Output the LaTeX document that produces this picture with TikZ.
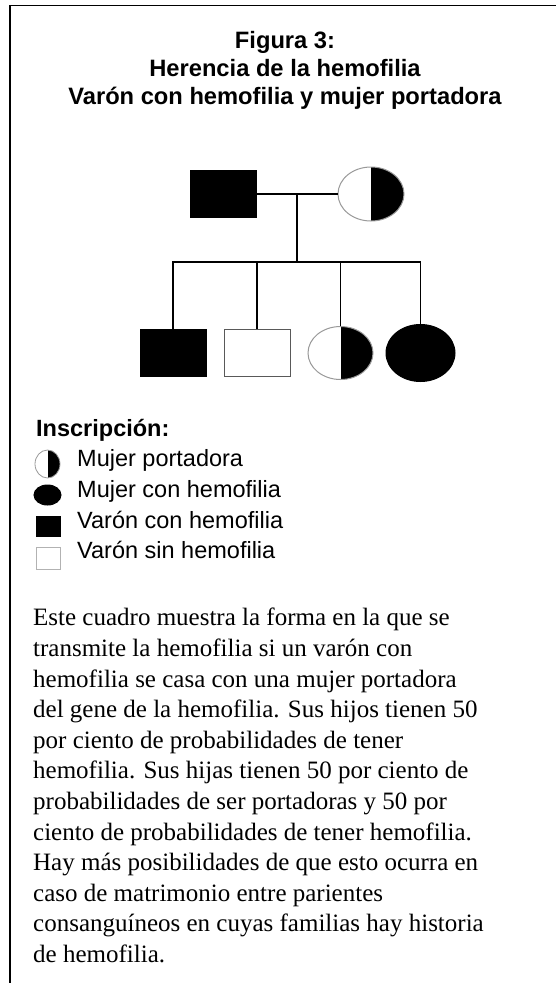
\documentclass[tikz,border=0pt]{standalone}
\usepackage{fontspec}
\setmainfont{Liberation Serif}
\setsansfont{Liberation Sans}
\usetikzlibrary{shapes.geometric,positioning,calc}

\begin{document}
\begin{tikzpicture}[x=1pt, y=-1pt,
        node distance=17pt,
        male/.style={rectangle, draw=black, fill=black, line width=1pt,
          minimum width=66pt, minimum height=47pt, inner sep=0pt},
        healthy/.style={male, draw=black!65, fill=white},
        female/.style={ellipse, draw=black, fill=black, line width=1pt,
          minimum width=66pt, minimum height=54pt, inner sep=0pt},
        carrier/.style={female, draw=black!40, fill=white,
          path picture={\fill[black] (path picture bounding box.north)
            rectangle (path picture bounding box.south east);}},
        link/.style={line width=1.5pt},
        ttl/.style={font=\sffamily\bfseries\fontsize{23.7}{28}\selectfont,
          align=center, inner sep=0pt},
        key/.style={font=\sffamily\fontsize{23.5}{28}\selectfont,
          anchor=base west, inner sep=0pt}
      ]
        \useasboundingbox (0,0) rectangle (556,983);
        \draw[line width=1.7pt] (10,983) -- (10,5.5) -- (556,5.5);
        \node[ttl, anchor=north] (title) at (285,31.5)
          {Figura 3:\\Herencia de la hemofilia\\Varón con hemofilia y mujer portadora};
        \node[male] (father) at (223,194) {};
        \node[carrier, right=81pt of father] (mother) {};
        \coordinate (mate) at ($(father.east)!0.5!(mother.west)$);
        \coordinate (sib) at (297,262);
        \node[male] (son1) at (173,353) {};
        \node[healthy, right=of son1] (son2) {};
        \node[carrier, minimum width=65pt, minimum height=53pt, right=of son2] (dau1) {};
        \node[female, minimum width=69pt, minimum height=57pt, right=12pt of dau1] (dau2) {};
        \draw[link] (father) -- (mother);
        \draw[link] (mate) -- (sib);
        \draw[link] (son1.north) |- (sib) -| (dau2.north);
        \draw[link] (son2.north) -- (son2.north |- sib);
        \draw[link] (dau1.north) -- (dau1.north |- sib);
        \node[key, font=\sffamily\bfseries\fontsize{23.5}{28}\selectfont] (keyhead) at (36,436) {Inscripción:};
        \node[carrier, minimum width=25pt, minimum height=28pt, line width=0.8pt] (k1) at (47.5,464) {};
        \node[female, minimum width=27pt, minimum height=20pt] (k2) at (47.5,495) {};
        \node[male, minimum width=24pt, minimum height=20pt] (k3) at (48,526) {};
        \node[healthy, draw=black!30, minimum width=24pt, minimum height=22pt] (k4) at (48,558) {};
        \node[key] (t1) at (77,466) {Mujer portadora};
        \node[key] (t2) at (77,497) {Mujer con hemofilia};
        \node[key] (t3) at (77,528) {Varón con hemofilia};
        \node[key] (t4) at (77,558) {Varón sin hemofilia};
        \node[anchor=north west, inner sep=0pt, align=left,
          font=\fontsize{25}{30.6}\selectfont] (body) at (33,608)
          {Este cuadro muestra la forma en la que se\\
           transmite la hemofilia si un varón con\\
           hemofilia se casa con una mujer portadora\\
           del gene de la hemofilia. Sus hijos tienen 50\\
           por ciento de probabilidades de tener\\
           hemofilia. Sus hijas tienen 50 por ciento de\\
           probabilidades de ser portadoras y 50 por\\
           ciento de probabilidades de tener hemofilia.\\
           Hay más posibilidades de que esto ocurra en\\
           caso de matrimonio entre parientes\\
           consanguíneos en cuyas familias hay historia\\
           de hemofilia.};
      \end{tikzpicture}
\end{document}
